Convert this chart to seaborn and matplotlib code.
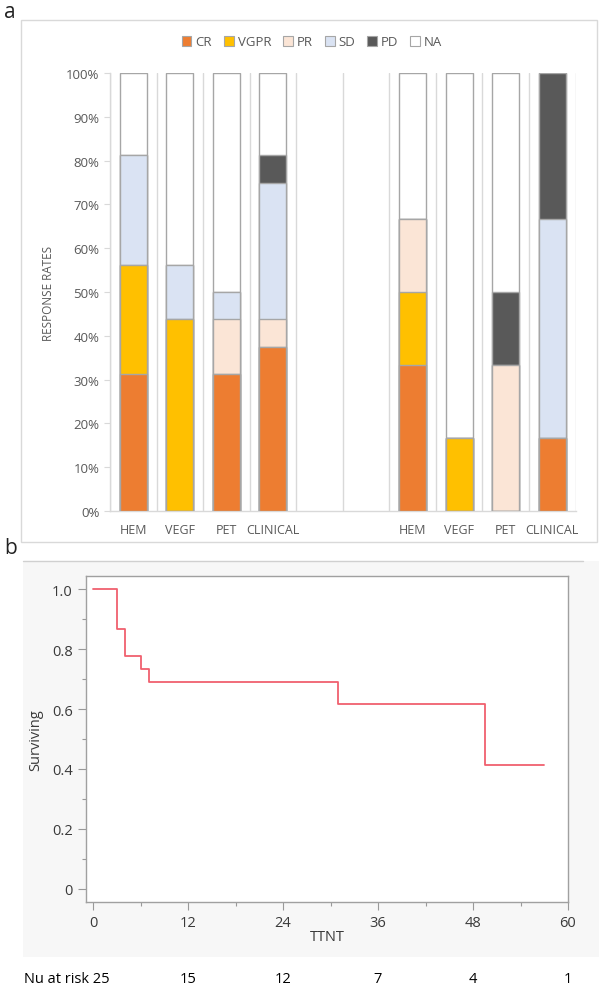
import matplotlib
matplotlib.use('Agg')
import matplotlib.pyplot as plt
import seaborn as sns
import pandas as pd
import numpy as np
from matplotlib.patches import Rectangle
import matplotlib.transforms as mtransforms

# ---- panel a : response rates (%) ----
bar_labels = ['HEM', 'VEGF', 'PET', 'CLINICAL', 'HEM', 'VEGF', 'PET', 'CLINICAL']
responses = ['CR', 'VGPR', 'PR', 'SD', 'PD', 'NA']
resp_colors = ['#ED7D31', '#FFC000', '#FBE5D6', '#DAE3F3', '#595959', '#FFFFFF']
cr = [31.25, 0, 31.25, 37.5, 33.33, 0, 0, 16.67]
vgpr = [25.0, 43.75, 0, 0, 16.67, 16.67, 0, 0]
pr = [0, 0, 12.5, 6.25, 16.67, 0, 33.33, 0]
sd = [25.0, 12.5, 6.25, 31.25, 0, 0, 0, 50.0]
pd_ = [0, 0, 0, 6.25, 0, 0, 16.67, 33.33]
na = [18.75, 43.75, 50.0, 18.75, 33.33, 83.33, 50.0, 0]

# ---- panel b : Kaplan-Meier TTNT ----
km_time = [0, 3, 4, 6, 7, 31, 49.5, 57]
km_surv = [1.0, 0.867, 0.778, 0.733, 0.689, 0.618, 0.412, 0.412]
risk_times = [0, 12, 24, 36, 48, 60]
risk_n = [25, 15, 12, 7, 4, 1]

sns.set_theme(style='white')
plt.rcParams['font.family'] = ['Open Sans', 'DejaVu Sans']

W, H = 599, 987
fig = plt.figure(figsize=(W / 100, H / 100), dpi=100)

def fx(px):
    return px / W

def fy(py):
    return 1 - py / H

# panel frames (behind the axes)
fig.patches.append(Rectangle((fx(21), fy(543)), fx(576), 522 / H, transform=fig.transFigure,
                             facecolor='white', edgecolor='#d9d9d9', lw=1, zorder=-10))
fig.patches.append(Rectangle((fx(23), fy(958)), fx(576), 396 / H, transform=fig.transFigure,
                             facecolor='#f7f7f7', edgecolor='none', zorder=-10))
fig.lines.append(plt.Line2D([fx(23), fx(583)], [fy(562), fy(562)], transform=fig.transFigure,
                            color='#d0d0d0', lw=1, zorder=-5))
fig.text(fx(4), fy(12), 'a', fontsize=15, va='center', ha='left', color='#222222')
fig.text(fx(4), fy(548), 'b', fontsize=15, va='center', ha='left', color='#222222')

# ---------------- panel a ----------------
ax1 = fig.add_axes([fx(110), fy(512), fx(575.6 - 110), (512 - 74) / H])
slots = ['g1_0', 'g1_1', 'g1_2', 'g1_3', 'gap1', 'gap2', 'g2_0', 'g2_1', 'g2_2', 'g2_3']
bar_slots = [s for s in slots if not s.startswith('gap')]
df = pd.DataFrame({'slot': bar_slots, 'CR': cr, 'VGPR': vgpr, 'PR': pr,
                   'SD': sd, 'PD': pd_, 'NA': na})
cum = df[responses].cumsum(axis=1)

# stacked bars drawn from the top segment down
for resp, col in reversed(list(zip(responses, resp_colors))):
    sns.barplot(x=df['slot'], y=cum[resp], order=slots, color=col, saturation=1,
                width=0.58, edgecolor='#a6a6a6', linewidth=1, ax=ax1, zorder=3)

ax1.set_ylim(0, 100)
ax1.set_xlim(-0.5, 9.5)
ax1.set_yticks(np.arange(0, 101, 10))
ax1.set_yticklabels([f'{v}%' for v in range(0, 101, 10)])
ax1.set_xticks([0, 1, 2, 3, 6, 7, 8, 9])
ax1.set_xticklabels(bar_labels)
ax1.set_xticks(np.arange(-0.5, 10, 1), minor=True)
ax1.grid(axis='x', which='minor', color='#d9d9d9', lw=1, zorder=0)
ax1.grid(axis='y', which='major', visible=False)
ax1.tick_params(axis='y', labelsize=9.5, colors='#595959', length=4, width=0.8, left=True)
ax1.tick_params(axis='y', color='#d9d9d9')
ax1.tick_params(axis='x', which='both', length=0, labelsize=9, labelcolor='#595959', pad=9)
ax1.set_xlabel('')
ax1.set_ylabel('RESPONSE RATES', fontsize=8.5, color='#595959', labelpad=8)
for s in ['top', 'right']:
    ax1.spines[s].set_visible(False)
for s in ['left', 'bottom']:
    ax1.spines[s].set_color('#d9d9d9')
    ax1.spines[s].set_linewidth(1)
ax1.set_facecolor('none')

handles = [Rectangle((0, 0), 1, 1, facecolor=c, edgecolor='#a6a6a6', lw=0.8) for c in resp_colors]
leg = fig.legend(handles, responses, loc='center', bbox_to_anchor=(fx(312), fy(43)), ncol=6,
                 frameon=False, handlelength=0.75, handleheight=0.75, handletextpad=0.3,
                 columnspacing=0.9, fontsize=9.5)
for t in leg.get_texts():
    t.set_color('#595959')

# ---------------- panel b ----------------
ax2 = fig.add_axes([fx(86), fy(903), fx(568 - 86), (903 - 577) / H])
km = pd.DataFrame({'TTNT': km_time, 'Surviving': km_surv})
sns.lineplot(data=km, x='TTNT', y='Surviving', drawstyle='steps-post', color='#F0606E',
             lw=1.3, estimator=None, ax=ax2)
ax2.set_xlim(-0.9, 60)
ax2.set_ylim(-0.045, 1.045)
ax2.set_xticks(risk_times)
ax2.set_xticks(np.arange(6, 60, 12), minor=True)
ax2.set_yticks([0, 0.2, 0.4, 0.6, 0.8, 1.0])
ax2.set_yticklabels(['0', '0.2', '0.4', '0.6', '0.8', '1.0'])
ax2.set_yticks(np.arange(0.1, 1.0, 0.2), minor=True)
ax2.tick_params(axis='both', which='major', direction='out', length=6, width=0.8,
                color='#999999', labelsize=10.5, labelcolor='#3a3a3a', bottom=True, left=True)
ax2.tick_params(axis='both', which='minor', direction='out', length=3, width=0.8,
                color='#999999', bottom=True, left=True)
ax2.set_xlabel('TTNT', fontsize=10.5, color='#3a3a3a', labelpad=-1)
ax2.set_ylabel('Surviving', fontsize=10.5, color='#3a3a3a', labelpad=6)
for s in ax2.spines.values():
    s.set_color('#a0a0a0')
    s.set_linewidth(1)
ax2.set_facecolor('white')

# number at risk row
trans = mtransforms.blended_transform_factory(ax2.transData, fig.transFigure)
fig.text(fx(24), fy(980), f'Nu at risk {risk_n[0]}', fontsize=10.5, color='black',
         ha='left', va='center')
for t, n in zip(risk_times[1:], risk_n[1:]):
    fig.text(t, fy(980), str(n), transform=trans, fontsize=10.5, color='black',
             ha='center', va='center')

fig.savefig('out.png', dpi=100)
